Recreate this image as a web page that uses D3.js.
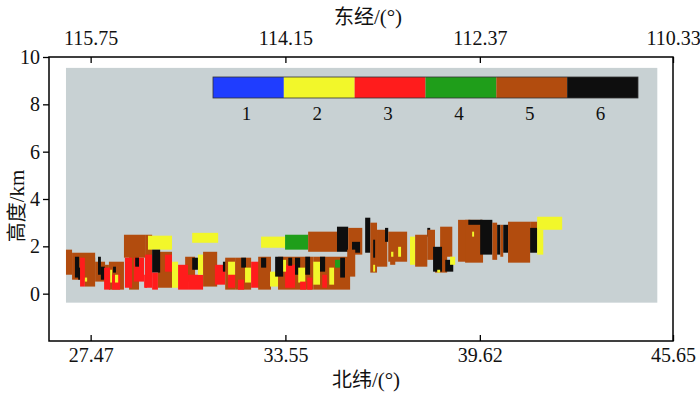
<!DOCTYPE html>
<html>
<head>
<meta charset="utf-8">
<script src="https://cdn.jsdelivr.net/npm/d3@7"></script>
<style>
  html, body { margin: 0; padding: 0; background: #ffffff; }
  svg { display: block; }
</style>
</head>
<body>
<svg id="chart" width="700" height="394"></svg>
<script>
// ---------- data ----------
const latTicks = [27.47, 33.55, 39.62, 45.65];          // bottom axis (北纬)
const lonLabels = ["115.75", "114.15", "112.37", "110.33"]; // top axis (东经) at the same positions
const heightTicks = [0, 2, 4, 6, 8, 10];
const categories = [1, 2, 3, 4, 5, 6];
const catColors = ["#1f3dff", "#f2f72a", "#ff1c1c", "#1f9e1a", "#b24c0e", "#0e0e0e"];
// scan extent (lat range, height range) of the grey background
const scanLat = [26.70, 45.16];
const scanHeight = [-0.38, 9.54];

// cells: [lat0, lat1, hBottom(km), hTop(km), category]
const southCells = [
  [26.70, 26.89, 0.80, 1.86, 5],
  [26.89, 27.61, 0.59, 1.73, 5],
  [27.29, 27.61, 0.30, 1.52, 5],
  [27.61, 27.92, 0.51, 1.35, 5],
  [28.04, 28.51, 0.17, 1.35, 5],
  [27.92, 28.04, 0.38, 1.22, 5],
  [28.51, 29.17, 1.52, 2.49, 5],
  [28.67, 28.98, 0.17, 1.56, 5],
  [29.17, 29.39, 0.68, 2.49, 5],
  [26.98, 27.11, 0.68, 1.56, 6],
  [27.08, 27.14, 0.59, 1.10, 6],
  [27.14, 27.29, 0.30, 1.52, 3],
  [27.29, 27.36, 0.51, 0.68, 2],
  [27.70, 27.79, 0.80, 1.56, 6],
  [27.79, 27.92, 0.59, 1.14, 6],
  [27.89, 28.08, 0.17, 1.10, 3],
  [28.08, 28.14, 0.47, 1.01, 2],
  [28.14, 28.39, 0.17, 0.80, 3],
  [28.17, 28.26, 0.89, 1.14, 6],
  [28.23, 28.33, 0.47, 0.80, 2],
  [28.54, 28.76, 0.25, 1.52, 3],
  [28.82, 29.14, 0.51, 1.52, 3],
  [28.86, 28.98, 1.14, 1.52, 6],
  [29.14, 29.23, 0.25, 0.80, 3],
  [29.26, 30.01, 1.86, 2.45, 2],
  [30.64, 31.45, 2.15, 2.57, 2],
  [29.17, 29.39, 0.25, 1.65, 3],
  [29.57, 30.01, 0.25, 1.77, 5],
  [29.39, 29.64, 0.89, 1.86, 6],
  [29.79, 30.01, 0.93, 1.65, 3],
  [29.39, 29.57, 0.17, 0.89, 3],
  [30.01, 30.20, 0.25, 1.35, 2],
  [30.42, 30.73, 0.51, 1.56, 5],
  [30.20, 30.51, 0.17, 1.22, 3],
  [30.64, 30.82, 1.01, 1.52, 6],
  [30.51, 30.98, 0.17, 0.80, 3],
  [30.82, 30.98, 0.80, 1.65, 2],
  [30.98, 31.42, 0.30, 1.77, 5],
  [31.35, 31.67, 0.38, 1.22, 3],
  [31.60, 31.76, 0.93, 1.35, 6],
  [31.67, 31.98, 0.17, 1.52, 5],
  [31.76, 31.98, 0.68, 1.35, 2],
  [31.76, 32.07, 0.25, 0.80, 3],
  [31.98, 32.48, 0.17, 1.52, 5],
  [32.17, 32.32, 1.10, 1.52, 6],
  [32.29, 32.48, 0.47, 1.10, 2],
  [32.48, 32.79, 0.25, 1.35, 3],
  [32.70, 33.10, 0.17, 1.56, 5],
  [32.79, 32.95, 1.10, 1.52, 6],
  [33.07, 33.32, 0.30, 0.93, 2],
  [33.32, 34.42, 0.17, 1.56, 5],
  [33.23, 33.48, 0.72, 1.56, 6],
  [33.54, 33.85, 0.25, 1.22, 3],
  [33.85, 34.01, 0.80, 1.52, 6],
  [33.95, 34.17, 0.47, 1.10, 2],
  [34.17, 34.32, 0.80, 1.56, 6],
  [32.07, 32.26, 0.17, 0.59, 3],
  [34.01, 34.20, 0.17, 0.51, 3],
  [33.48, 33.57, 0.93, 1.43, 2],
  [33.64, 33.76, 1.18, 1.52, 6],
  [34.42, 35.57, 0.17, 1.56, 5],
  [34.42, 34.63, 0.38, 1.35, 2],
  [34.63, 34.79, 0.93, 1.56, 6],
  [34.70, 34.85, 0.25, 0.80, 3],
  [35.10, 35.26, 1.10, 1.43, 4],
  [34.92, 35.07, 0.38, 1.10, 2],
  [35.26, 35.41, 0.68, 1.52, 6],
  [34.23, 34.39, 0.17, 0.68, 3]
];
const northCells = [
  [32.79, 33.54, 1.94, 2.41, 2],
  [33.54, 34.26, 1.86, 2.49, 4],
  [34.26, 35.16, 1.77, 2.62, 5],
  [35.16, 35.51, 1.77, 2.83, 6],
  [35.51, 35.95, 1.65, 2.78, 5],
  [35.63, 35.88, 1.73, 2.19, 6],
  [35.48, 35.73, 0.72, 1.86, 5],
  [36.04, 36.20, 1.73, 3.21, 6],
  [36.20, 36.41, 0.89, 3.00, 5],
  [36.29, 36.35, 1.52, 2.28, 6],
  [36.29, 36.35, 0.93, 1.22, 2],
  [36.41, 36.73, 1.14, 2.70, 5],
  [36.66, 36.76, 2.19, 2.78, 6],
  [36.76, 37.35, 1.35, 2.62, 5],
  [36.82, 36.98, 1.22, 1.65, 5],
  [36.85, 36.92, 1.56, 1.77, 2],
  [37.07, 37.16, 1.56, 1.98, 2],
  [37.44, 37.60, 1.22, 2.41, 2],
  [37.60, 37.98, 1.14, 2.49, 5],
  [37.98, 38.07, 2.41, 2.78, 6],
  [37.98, 38.22, 1.43, 2.70, 5],
  [38.38, 38.76, 1.56, 2.83, 5],
  [38.22, 38.60, 0.89, 1.86, 5],
  [38.16, 38.44, 0.93, 1.98, 6],
  [38.54, 38.79, 0.93, 1.43, 6],
  [38.69, 38.85, 1.22, 1.56, 2],
  [38.29, 38.38, 0.89, 1.01, 2],
  [38.94, 39.32, 1.35, 3.12, 5],
  [39.16, 39.72, 1.31, 3.12, 5],
  [39.26, 39.69, 2.91, 3.12, 6],
  [39.38, 39.44, 2.41, 2.62, 2],
  [39.63, 40.01, 1.65, 3.12, 6],
  [40.01, 40.16, 1.43, 3.00, 5],
  [40.16, 40.26, 1.65, 2.91, 6],
  [40.26, 40.35, 1.56, 2.91, 5],
  [40.35, 40.50, 1.73, 2.91, 6],
  [40.50, 41.19, 1.31, 3.04, 5],
  [41.19, 41.41, 1.86, 3.04, 5],
  [41.19, 41.41, 1.73, 2.78, 6],
  [41.41, 42.19, 2.70, 3.25, 2],
  [41.41, 41.60, 1.65, 2.70, 2]
];

// ---------- drawing ----------
const NUM_FONT = '"Liberation Serif", "Times New Roman", serif';
const CJK_FONT = '"Noto Sans CJK SC", sans-serif';
const svg = d3.select("#chart");

const x = d3.scaleLinear().domain([26.17, 45.65]).range([49, 673]);
const y = d3.scaleLinear().domain([-2, 10]).range([341, 57]);
const color = d3.scaleOrdinal().domain(categories).range(catColors);

// grey scan area
svg.append("rect")
  .attr("x", x(scanLat[0])).attr("y", y(scanHeight[1]))
  .attr("width", x(scanLat[1]) - x(scanLat[0]))
  .attr("height", y(scanHeight[0]) - y(scanHeight[1]))
  .attr("fill", "#c8d1d3");

// cells
svg.append("g").selectAll("rect")
  .data(southCells.concat(northCells))
  .join("rect")
  .attr("x", d => x(d[0]))
  .attr("y", d => y(d[3]))
  .attr("width", d => x(d[1]) - x(d[0]))
  .attr("height", d => y(d[2]) - y(d[3]))
  .attr("fill", d => color(d[4]));

// legend bar
const lx = d3.scaleBand().domain(categories).range([213, 638]);
const lg = svg.append("g");
lg.selectAll("rect")
  .data(categories)
  .join("rect")
  .attr("x", d => lx(d)).attr("y", 77)
  .attr("width", lx.bandwidth()).attr("height", 21)
  .attr("fill", d => color(d));
lg.append("rect")
  .attr("x", 213).attr("y", 77).attr("width", 425).attr("height", 21)
  .attr("fill", "none").attr("stroke", "#333").attr("stroke-width", 0.8);
lg.selectAll("text")
  .data(categories)
  .join("text")
  .attr("x", d => lx(d) + lx.bandwidth() / 2 - 2)
  .attr("y", 120)
  .attr("text-anchor", "middle")
  .style("font-family", NUM_FONT)
  .style("font-size", "19px")
  .attr("fill", "#111")
  .text(d => d);

// axes
function styleAxis(g) {
  g.attr("font-family", null).attr("font-size", null);
  g.select(".domain").remove();
  g.selectAll(".tick line").attr("stroke", "#000").attr("stroke-width", 1.3);
  g.selectAll(".tick text")
    .style("font-family", NUM_FONT)
    .style("font-size", "20px")
    .attr("fill", "#111");
}
svg.append("g")
  .attr("transform", "translate(0,341)")
  .call(d3.axisBottom(x).tickValues(latTicks).tickSize(-6).tickPadding(7).tickFormat(d3.format(".2f")))
  .call(styleAxis);
svg.append("g")
  .attr("transform", "translate(0,57)")
  .call(d3.axisTop(x).tickValues(latTicks).tickSize(-6).tickPadding(12).tickFormat((d, i) => lonLabels[i]))
  .call(styleAxis);
svg.append("g")
  .attr("transform", "translate(49,0)")
  .call(d3.axisLeft(y).tickValues(heightTicks).tickSize(6).tickPadding(3))
  .call(styleAxis);

// frame
svg.append("rect")
  .attr("x", 49).attr("y", 57).attr("width", 624).attr("height", 284)
  .attr("fill", "none").attr("stroke", "#000").attr("stroke-width", 1.5);

// titles (CJK part in Noto Sans CJK, rest in serif)
function title(sel, cjk, rest) {
  sel.attr("fill", "#111").attr("text-anchor", "middle").style("font-size", "20px");
  sel.append("tspan").style("font-family", CJK_FONT).text(cjk);
  sel.append("tspan").style("font-family", NUM_FONT).style("font-size", "21px").text(rest);
}
svg.append("text").attr("x", 368).attr("y", 24).call(title, "东经", "/(°)");
svg.append("text").attr("x", 366).attr("y", 387).call(title, "北纬", "/(°)");
svg.append("text").attr("transform", "translate(24,206) rotate(-90)").call(title, "高度", "/km");
</script>
</body>
</html>
